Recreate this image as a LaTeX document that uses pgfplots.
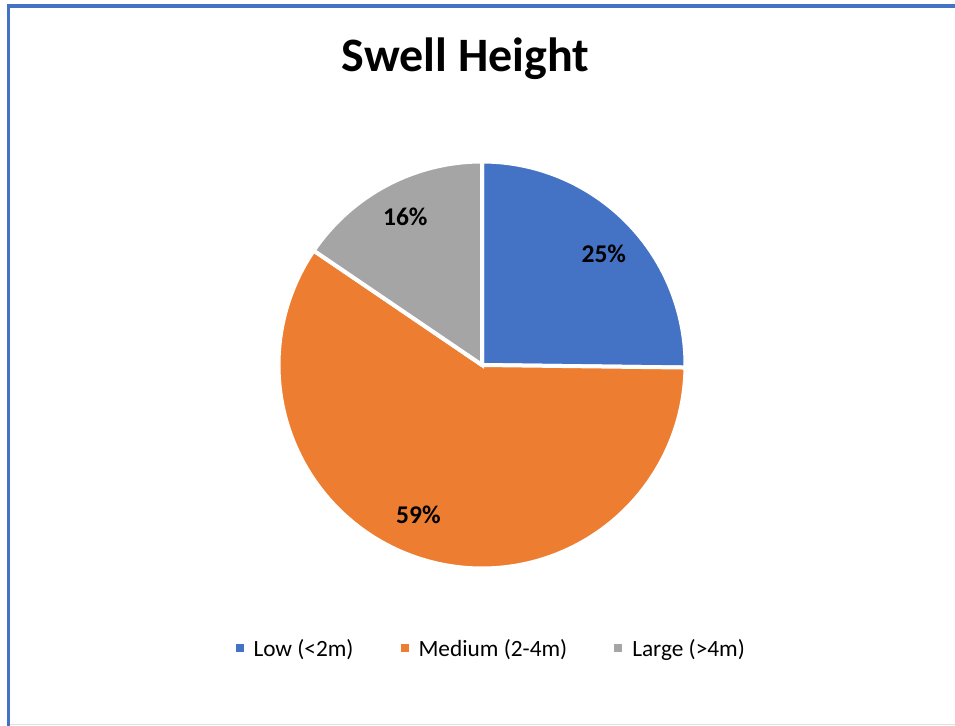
\documentclass[border=0pt]{standalone}
\usepackage{fontspec}
\setmainfont{Carlito}
\usepackage{pgfplots}
\pgfplotsset{compat=1.18}
\definecolor{cLow}{HTML}{4472C4}
\definecolor{cMed}{HTML}{ED7D31}
\definecolor{cLarge}{HTML}{A5A5A5}
\begin{document}
\begin{tikzpicture}
% slice shares (percent)
\pgfmathsetmacro{\pLow}{25.2}
\pgfmathsetmacro{\pMed}{59.3}
\pgfmathsetmacro{\pLarge}{15.5}
\pgfmathsetmacro{\aA}{90}
\pgfmathsetmacro{\aB}{\aA-3.6*\pLow}
\pgfmathsetmacro{\aC}{\aB-3.6*\pMed}
\pgfmathsetmacro{\aD}{\aC-3.6*\pLarge}
\def\cx{482}
\def\cy{360}
\def\r{203.5}
\begin{axis}[
  name=ax,
  scale only axis, width=955pt, height=725pt,
  xmin=0, xmax=955, ymin=0, ymax=725,
  hide axis, clip=false,
  legend columns=3,
  legend style={at={(axis cs:235.5,76)}, anchor=west, draw=none, fill=none,
    inner sep=0pt, outer sep=0pt, font=\fontsize{23.3}{28}\selectfont,
    nodes={inner sep=0pt},
    /tikz/every odd column/.append style={column sep=10pt},
    /tikz/every even column/.append style={column sep=47pt}},
  legend image code/.code={\fill[#1] (0pt,-3.5pt) rectangle (8pt,4.5pt);},
]
\addplot[forget plot, draw=white, line width=4pt, fill=cLow, domain=\aB:\aA, samples=90, variable=\t]
  ({\cx+\r*cos(\t)},{\cy+\r*sin(\t)}) -- (axis cs:\cx,\cy) -- cycle;
\addplot[forget plot, draw=white, line width=4pt, fill=cMed, domain=\aC:\aB, samples=180, variable=\t]
  ({\cx+\r*cos(\t)},{\cy+\r*sin(\t)}) -- (axis cs:\cx,\cy) -- cycle;
\addplot[forget plot, draw=white, line width=4pt, fill=cLarge, domain=\aD:\aC, samples=60, variable=\t]
  ({\cx+\r*cos(\t)},{\cy+\r*sin(\t)}) -- (axis cs:\cx,\cy) -- cycle;
\addlegendimage{fill=cLow, draw=none}
\addlegendentry{Low (<2m)}
\addlegendimage{fill=cMed, draw=none}
\addlegendentry{Medium (2-4m)}
\addlegendimage{fill=cLarge, draw=none}
\addlegendentry{Large (>4m)}
\node[anchor=base, font=\fontsize{25.5}{30}\selectfont\bfseries] at (axis cs:603.8,462.2) {25\%};
\node[anchor=base, font=\fontsize{25.5}{30}\selectfont\bfseries] at (axis cs:418.4,201.6) {59\%};
\node[anchor=base, font=\fontsize{25.5}{30}\selectfont\bfseries] at (axis cs:405.3,499.7) {16\%};
\node[anchor=base, font=\fontsize{48}{58}\selectfont\bfseries] at (axis cs:465.5,653.3) {Swell Height};
\draw[cLow, line width=3.5pt] (axis cs:8.5,-10) -- (axis cs:8.5,719) -- (axis cs:970,719);
\draw[black!12, line width=1pt] (axis cs:10,0.5) -- (axis cs:960,0.5);
\end{axis}
\pgfresetboundingbox
\path[use as bounding box] (ax.south west) rectangle (ax.north east);
\end{tikzpicture}
\end{document}
